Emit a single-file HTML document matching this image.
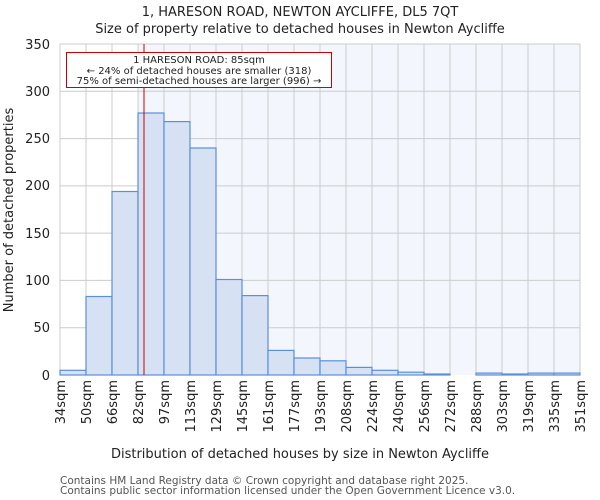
<!DOCTYPE html>
<html><head><meta charset="utf-8"><style>body{margin:0;background:#fff}svg{display:block}text{font-family:"DejaVu Sans","Liberation Sans",sans-serif}</style></head>
<body>
<svg width="600" height="500" viewBox="0 0 600 500" xmlns="http://www.w3.org/2000/svg">
<rect x="138" y="44" width="442" height="331" fill="#f3f6fd"/>
<g stroke="#cccccc" stroke-width="1">
<line x1="60" y1="44" x2="580" y2="44"/><line x1="60" y1="91.3" x2="580" y2="91.3"/><line x1="60" y1="138.6" x2="580" y2="138.6"/><line x1="60" y1="185.9" x2="580" y2="185.9"/><line x1="60" y1="233.1" x2="580" y2="233.1"/><line x1="60" y1="280.4" x2="580" y2="280.4"/><line x1="60" y1="327.7" x2="580" y2="327.7"/>
<line x1="60" y1="44" x2="60" y2="375"/><line x1="86" y1="44" x2="86" y2="375"/><line x1="112" y1="44" x2="112" y2="375"/><line x1="138" y1="44" x2="138" y2="375"/><line x1="164" y1="44" x2="164" y2="375"/><line x1="190" y1="44" x2="190" y2="375"/><line x1="216" y1="44" x2="216" y2="375"/><line x1="242" y1="44" x2="242" y2="375"/><line x1="268" y1="44" x2="268" y2="375"/><line x1="294" y1="44" x2="294" y2="375"/><line x1="320" y1="44" x2="320" y2="375"/><line x1="346" y1="44" x2="346" y2="375"/><line x1="372" y1="44" x2="372" y2="375"/><line x1="398" y1="44" x2="398" y2="375"/><line x1="424" y1="44" x2="424" y2="375"/><line x1="450" y1="44" x2="450" y2="375"/><line x1="476" y1="44" x2="476" y2="375"/><line x1="502" y1="44" x2="502" y2="375"/><line x1="528" y1="44" x2="528" y2="375"/><line x1="554" y1="44" x2="554" y2="375"/><line x1="580" y1="44" x2="580" y2="375"/>
</g>
<g fill="#d6e2f3" stroke="#5b8fd6" stroke-width="1.2">
<rect x="60" y="370.3" width="26" height="4.7"/>
<rect x="86" y="296.5" width="26" height="78.5"/>
<rect x="112" y="191.5" width="26" height="183.5"/>
<rect x="138" y="113" width="26" height="262"/>
<rect x="164" y="121.6" width="26" height="253.4"/>
<rect x="190" y="148" width="26" height="227"/>
<rect x="216" y="279.5" width="26" height="95.5"/>
<rect x="242" y="295.6" width="26" height="79.4"/>
<rect x="268" y="350.4" width="26" height="24.6"/>
<rect x="294" y="358" width="26" height="17"/>
<rect x="320" y="360.8" width="26" height="14.2"/>
<rect x="346" y="367.4" width="26" height="7.6"/>
<rect x="372" y="370.3" width="26" height="4.7"/>
<rect x="398" y="372.2" width="26" height="2.8"/>
<rect x="424" y="374" width="26" height="1"/>
<rect x="476" y="373.1" width="26" height="1.9"/>
<rect x="502" y="374" width="26" height="1"/>
<rect x="528" y="373.1" width="26" height="1.9"/>
<rect x="554" y="373.1" width="26" height="1.9"/>
</g>
<line x1="144" y1="44" x2="144" y2="375" stroke="#cc0000" stroke-width="1"/>
<rect x="66.5" y="52.5" width="265" height="35" fill="#fff" stroke="#cc0000" stroke-width="1"/>
<g font-size="10" fill="#222" text-anchor="middle">
<text x="199" y="63">1 HARESON ROAD: 85sqm</text>
<text x="199" y="74">← 24% of detached houses are smaller (318)</text>
<text x="199" y="84">75% of semi-detached houses are larger (996) →</text>
</g>
<g font-size="13" fill="#222" text-anchor="middle">
<text x="300" y="16">1, HARESON ROAD, NEWTON AYCLIFFE, DL5 7QT</text>
<text x="300" y="33">Size of property relative to detached houses in Newton Aycliffe</text>
<text x="300" y="458">Distribution of detached houses by size in Newton Aycliffe</text>
<text transform="translate(13,210) rotate(-90)">Number of detached properties</text>
</g>
<g font-size="13" fill="#222" text-anchor="end">
<text x="50" y="49">350</text><text x="50" y="96">300</text><text x="50" y="143">250</text><text x="50" y="190">200</text><text x="50" y="238">150</text><text x="50" y="285">100</text><text x="50" y="332">50</text><text x="50" y="380">0</text>
</g>
<g font-size="13" fill="#222" text-anchor="end">
<text transform="translate(65,380) rotate(-90)">34sqm</text>
<text transform="translate(91,380) rotate(-90)">50sqm</text>
<text transform="translate(117,380) rotate(-90)">66sqm</text>
<text transform="translate(143,380) rotate(-90)">82sqm</text>
<text transform="translate(169,380) rotate(-90)">97sqm</text>
<text transform="translate(195,380) rotate(-90)">113sqm</text>
<text transform="translate(221,380) rotate(-90)">129sqm</text>
<text transform="translate(247,380) rotate(-90)">145sqm</text>
<text transform="translate(273,380) rotate(-90)">161sqm</text>
<text transform="translate(299,380) rotate(-90)">177sqm</text>
<text transform="translate(325,380) rotate(-90)">193sqm</text>
<text transform="translate(351,380) rotate(-90)">208sqm</text>
<text transform="translate(377,380) rotate(-90)">224sqm</text>
<text transform="translate(403,380) rotate(-90)">240sqm</text>
<text transform="translate(429,380) rotate(-90)">256sqm</text>
<text transform="translate(455,380) rotate(-90)">272sqm</text>
<text transform="translate(481,380) rotate(-90)">288sqm</text>
<text transform="translate(507,380) rotate(-90)">303sqm</text>
<text transform="translate(533,380) rotate(-90)">319sqm</text>
<text transform="translate(559,380) rotate(-90)">335sqm</text>
<text transform="translate(585,380) rotate(-90)">351sqm</text>
</g>
<g font-size="10.5" fill="#555">
<text x="60" y="484">Contains HM Land Registry data © Crown copyright and database right 2025.</text>
<text x="60" y="494">Contains public sector information licensed under the Open Government Licence v3.0.</text>
</g>
</svg>
</body></html>
